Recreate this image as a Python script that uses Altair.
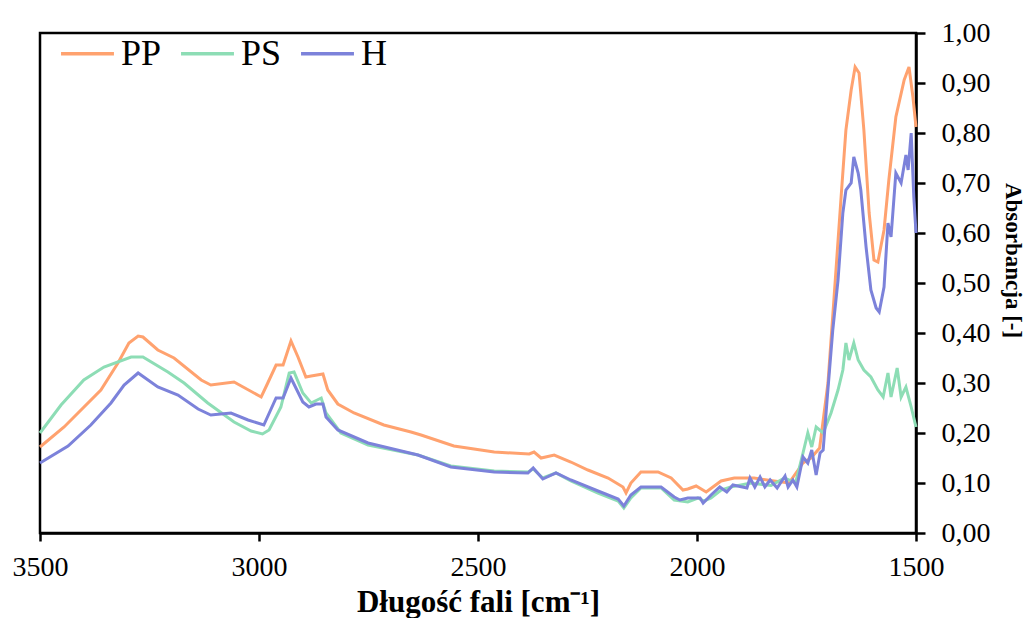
import altair as alt
import pandas as pd

# ---- data ----
pp_wn = [3500, 3445, 3361, 3322, 3297, 3276, 3265, 3231, 3194, 3132, 3110, 3057, 2995, 2980,
         2961, 2945, 2927, 2911, 2893, 2881, 2854, 2843, 2820, 2783, 2715, 2653, 2630, 2555,
         2463, 2383, 2372, 2356, 2326, 2288, 2249, 2203, 2169, 2162, 2151, 2128, 2089, 2059,
         2032, 2021, 2002, 1979, 1945, 1915, 1870, 1824, 1790, 1758, 1740, 1720, 1701, 1687,
         1671, 1660, 1648, 1639, 1630, 1619, 1607, 1596, 1587, 1573, 1562, 1546, 1527, 1516,
         1507, 1500]
pp_abs = [0.172, 0.212, 0.286, 0.34, 0.38, 0.394, 0.392, 0.366, 0.35, 0.306, 0.296, 0.302, 0.272, 0.30,
          0.336, 0.336, 0.384, 0.352, 0.312, 0.314, 0.318, 0.286, 0.258, 0.24, 0.216, 0.202, 0.196, 0.174,
          0.162, 0.158, 0.162, 0.15, 0.156, 0.142, 0.126, 0.11, 0.092, 0.08, 0.10, 0.122, 0.122, 0.11,
          0.086, 0.088, 0.094, 0.082, 0.104, 0.11, 0.11, 0.104, 0.10, 0.14, 0.15, 0.17, 0.30, 0.472,
          0.672, 0.806, 0.886, 0.932, 0.92, 0.806, 0.64, 0.546, 0.542, 0.606, 0.706, 0.832, 0.906, 0.932,
          0.872, 0.812]

ps_wn = [3500, 3452, 3400, 3354, 3292, 3265, 3208, 3171, 3117, 3057, 3018, 2992, 2977, 2950,
         2931, 2920, 2900, 2881, 2858, 2847, 2813, 2751, 2637, 2562, 2463, 2386, 2374, 2352,
         2322, 2288, 2226, 2180, 2167, 2151, 2128, 2082, 2052, 2021, 1998, 1984, 1968, 1945,
         1923, 1877, 1831, 1800, 1775, 1758, 1747, 1738, 1728, 1712, 1694, 1678, 1667, 1660,
         1653, 1642, 1632, 1619, 1603, 1587, 1575, 1564, 1557, 1543, 1534, 1523, 1511, 1500]
ps_abs = [0.20, 0.256, 0.306, 0.332, 0.352, 0.352, 0.322, 0.30, 0.26, 0.222, 0.204, 0.198, 0.206, 0.252,
          0.32, 0.322, 0.28, 0.26, 0.27, 0.24, 0.20, 0.176, 0.156, 0.134, 0.124, 0.122, 0.128, 0.11,
          0.12, 0.104, 0.08, 0.064, 0.05, 0.07, 0.09, 0.09, 0.066, 0.062, 0.07, 0.064, 0.07, 0.086,
          0.092, 0.10, 0.095, 0.11, 0.10, 0.16, 0.20, 0.172, 0.212, 0.20, 0.24, 0.286, 0.326, 0.38,
          0.346, 0.38, 0.346, 0.326, 0.312, 0.286, 0.272, 0.32, 0.272, 0.33, 0.272, 0.292, 0.252, 0.212]

h_wn = [3500, 3436, 3384, 3338, 3308, 3276, 3231, 3185, 3139, 3110, 3064, 3025, 2989, 2961,
        2945, 2927, 2900, 2886, 2870, 2854, 2847, 2820, 2751, 2637, 2562, 2463, 2386, 2374,
        2352, 2322, 2288, 2226, 2180, 2167, 2151, 2128, 2082, 2052, 2039, 2021, 1993, 1986,
        1968, 1948, 1932, 1918, 1886, 1879, 1868, 1856, 1845, 1833, 1817, 1799, 1792, 1781,
        1772, 1758, 1747, 1738, 1728, 1719, 1712, 1703, 1690, 1678, 1667, 1660, 1648, 1642,
        1632, 1626, 1614, 1603, 1591, 1584, 1573, 1564, 1557, 1546, 1534, 1523, 1518, 1511,
        1505, 1500]
h_abs = [0.14, 0.174, 0.216, 0.26, 0.296, 0.32, 0.292, 0.276, 0.248, 0.236, 0.24, 0.226, 0.216, 0.27,
         0.27, 0.31, 0.262, 0.252, 0.258, 0.258, 0.232, 0.206, 0.18, 0.156, 0.132, 0.122, 0.12, 0.13,
         0.108, 0.12, 0.106, 0.084, 0.068, 0.054, 0.076, 0.092, 0.092, 0.072, 0.066, 0.07, 0.07, 0.06,
         0.076, 0.092, 0.082, 0.096, 0.09, 0.11, 0.092, 0.112, 0.092, 0.106, 0.09, 0.114, 0.092, 0.106,
         0.092, 0.152, 0.14, 0.166, 0.116, 0.16, 0.166, 0.266, 0.406, 0.506, 0.64, 0.686, 0.70, 0.752,
         0.72, 0.686, 0.572, 0.486, 0.45, 0.442, 0.492, 0.62, 0.592, 0.72, 0.70, 0.756, 0.726, 0.80,
         0.672, 0.60]

series_names = ["PP", "PS", "H"]
series_colors = ["#FFA26F", "#8DDDB5", "#7C82DA"]
x_ticks = [3500, 3000, 2500, 2000, 1500]
y_ticks = [0.0, 0.1, 0.2, 0.3, 0.4, 0.5, 0.6, 0.7, 0.8, 0.9, 1.0]

rows = []
for name, wn, ab in [("PP", pp_wn, pp_abs), ("PS", ps_wn, ps_abs), ("H", h_wn, h_abs)]:
    for w, a in zip(wn, ab):
        rows.append({"seria": name, "wn": w, "abs": a})
df = pd.DataFrame(rows)

FONT = "Liberation Serif"

chart = alt.Chart(df).mark_line(strokeWidth=3, interpolate="linear").encode(
    x=alt.X("wn:Q",
            scale=alt.Scale(domain=[1500, 3500], reverse=True, nice=False, zero=False),
            axis=alt.Axis(values=x_ticks, format="d", title="Długość fali [cm⁻¹]",
                          orient="bottom", grid=False, tickSize=8, labelPadding=12,
                          labelFlush=False, titleFontSize=31,
                          titleX=438, titleY=78, titleBaseline="alphabetic",
                          titleAlign="center")),
    y=alt.Y("abs:Q",
            scale=alt.Scale(domain=[0, 1], nice=False),
            axis=alt.Axis(values=y_ticks, orient="right", grid=False, tickSize=9,
                          labelPadding=16, labelFlush=False, title="Absorbancja [-]",
                          titleFontSize=23, titleAngle=90, titleX=89, titleY=227,
                          titleBaseline="alphabetic", titleAlign="center",
                          labelExpr="replace(format(datum.value, '.2f'), '.', ',')")),
    color=alt.Color("seria:N",
                    scale=alt.Scale(domain=series_names, range=series_colors),
                    legend=alt.Legend(title=None, orient="none", legendX=19, legendY=-8,
                                      direction="horizontal", symbolType="stroke",
                                      symbolSize=2800, symbolStrokeWidth=3.5,
                                      labelFontSize=36, labelFont=FONT, labelOffset=5,
                                      columnPadding=12, padding=0, labelColor="black")),
    order=alt.Order("wn:Q"),
).properties(
    width=876,
    height=500,
    autosize=alt.AutoSizeParams(type="none"),
    padding={"left": 32, "top": 25, "right": 110, "bottom": 85},
).configure_view(
    stroke="black", strokeWidth=2.5
).configure_axis(
    domainColor="black", domainWidth=2.5, tickColor="black", tickWidth=2.5,
    labelFont=FONT, labelFontSize=28, labelColor="black",
    titleFont=FONT, titleFontWeight="bold", titleColor="black",
)

chart.save("out.html", embed_options={"renderer": "svg", "actions": False})
